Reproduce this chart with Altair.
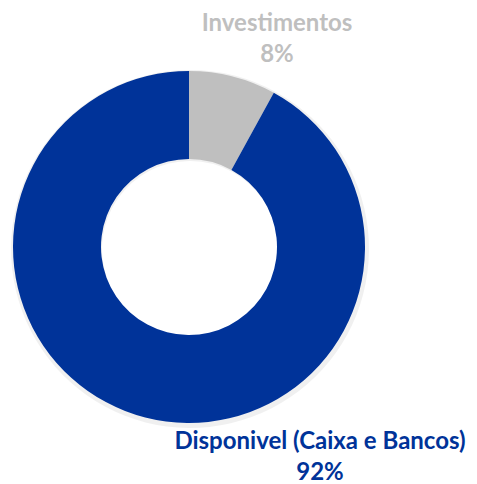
import altair as alt
import pandas as pd

categories = ["Investimentos", "Disponivel (Caixa e Bancos)"]
values = [8, 92]
pct_labels = ["8%", "92%"]
colors = ["#BFBFBF", "#003399"]

df = pd.DataFrame({"cat": categories, "val": values, "order": [0, 1], "pct": pct_labels})

cx, cy = 181, 239
arc = alt.Chart(df).mark_arc(outerRadius=176, innerRadius=88, stroke=None).encode(
    theta=alt.Theta("val:Q", stack=True),
    order=alt.Order("order:Q"),
    color=alt.Color("cat:N", scale=alt.Scale(domain=categories, range=colors), legend=None),
    x=alt.value(cx), y=alt.value(cy),
)

shadow = alt.Chart(df).mark_arc(outerRadius=179, innerRadius=88, color="#000000", opacity=0.06).encode(
    theta=alt.Theta("val:Q", stack=True),
    order=alt.Order("order:Q"),
    x=alt.value(cx + 1), y=alt.value(cy + 2),
)

def label(i, x, y):
    base = alt.Chart(df.iloc[[i]]).encode(x=alt.value(x), color=alt.value(colors[i]))
    t1 = base.mark_text(font="Lato", fontWeight="bold", fontSize=24, baseline="alphabetic", align="center").encode(
        y=alt.value(y), text="cat:N")
    t2 = base.mark_text(font="Lato", fontWeight="bold", fontSize=24, baseline="alphabetic", align="center").encode(
        y=alt.value(y + 31), text="pct:N")
    return t1 + t2

chart = alt.layer(shadow, arc, label(0, 269, 23), label(1, 312, 441)).properties(
    width=461, height=476, padding=0,
    autosize=alt.AutoSizeParams(type="none"),
).configure_view(stroke=None)

chart.save("out.html", embed_options={"renderer": "svg", "actions": False})
